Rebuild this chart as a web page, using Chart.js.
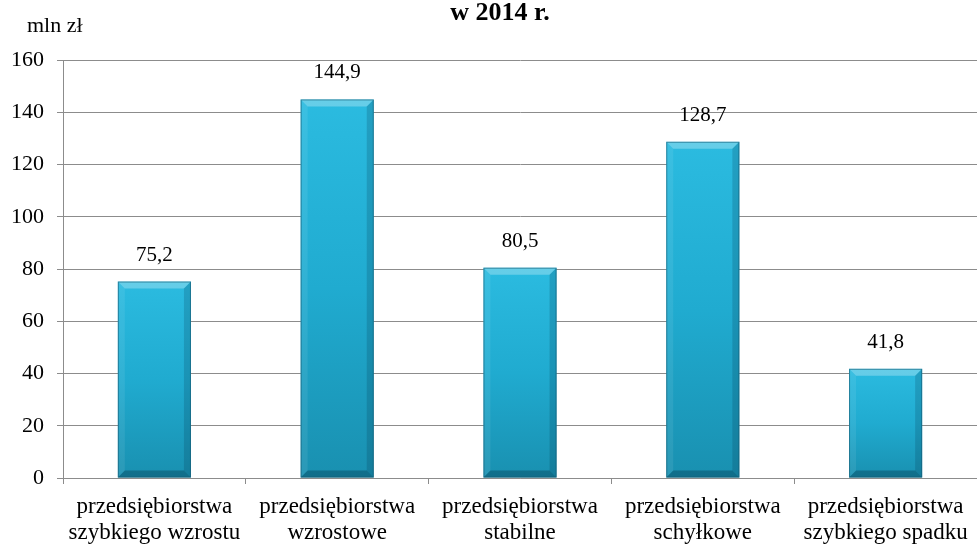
<!DOCTYPE html>
<html>
<head>
<meta charset="utf-8">
<script src="https://cdn.jsdelivr.net/npm/chart.js@4"></script>
<style>
  html, body { margin: 0; padding: 0; background: #fff; }
  #wrap { width: 977px; height: 545px; }
</style>
</head>
<body>
<div id="wrap"><canvas id="chart" width="977" height="545"></canvas></div>
<script>
// ---- data ----
const categories = [
  ['przedsiębiorstwa', 'szybkiego wzrostu'],
  ['przedsiębiorstwa', 'wzrostowe'],
  ['przedsiębiorstwa', 'stabilne'],
  ['przedsiębiorstwa', 'schyłkowe'],
  ['przedsiębiorstwa', 'szybkiego spadku']
];
const values = [75.2, 144.9, 80.5, 128.7, 41.8];
const valueLabels = ['75,2', '144,9', '80,5', '128,7', '41,8'];
const yTicks = [0, 20, 40, 60, 80, 100, 120, 140, 160];

const serif = "'Liberation Serif', 'DejaVu Serif', serif";

// bevelled bars + value labels + headings
const decorPlugin = {
  id: 'decor',
  afterDatasetsDraw(chart) {
    const ctx = chart.ctx;
    const meta = chart.getDatasetMeta(0);
    meta.data.forEach((bar, i) => {
      const l = bar.x - bar.width / 2, r = bar.x + bar.width / 2;
      const t = bar.y, b = bar.base;
      const e = 7;
      ctx.save();
      // body gradient
      const g = ctx.createLinearGradient(0, t, 0, b);
      g.addColorStop(0, '#2bbbe0');
      g.addColorStop(0.5, '#20abd0');
      g.addColorStop(1, '#1990b0');
      ctx.fillStyle = g;
      ctx.fillRect(l, t, r - l, b - t);
      // top bevel (light)
      ctx.fillStyle = 'rgba(255,255,255,0.28)';
      ctx.beginPath();
      ctx.moveTo(l, t); ctx.lineTo(r, t); ctx.lineTo(r - e, t + e); ctx.lineTo(l + e, t + e);
      ctx.closePath(); ctx.fill();
      // left bevel
      ctx.fillStyle = 'rgba(255,255,255,0.08)';
      ctx.beginPath();
      ctx.moveTo(l, t); ctx.lineTo(l + e, t + e); ctx.lineTo(l + e, b - e); ctx.lineTo(l, b);
      ctx.closePath(); ctx.fill();
      // right bevel
      ctx.fillStyle = 'rgba(0,40,60,0.18)';
      ctx.beginPath();
      ctx.moveTo(r, t); ctx.lineTo(r - e, t + e); ctx.lineTo(r - e, b - e); ctx.lineTo(r, b);
      ctx.closePath(); ctx.fill();
      // bottom bevel (dark)
      ctx.fillStyle = 'rgba(0,40,60,0.32)';
      ctx.beginPath();
      ctx.moveTo(l, b); ctx.lineTo(r, b); ctx.lineTo(r - e, b - e); ctx.lineTo(l + e, b - e);
      ctx.closePath(); ctx.fill();
      // outline
      ctx.strokeStyle = 'rgba(20,90,115,0.6)';
      ctx.lineWidth = 1;
      ctx.strokeRect(l + 0.5, t + 0.5, r - l - 1, b - t - 1);
      // value label
      ctx.fillStyle = '#000';
      ctx.font = '21px ' + serif;
      ctx.textAlign = 'center';
      ctx.textBaseline = 'alphabetic';
      ctx.fillText(valueLabels[i], bar.x, t - 21);
      ctx.restore();
    });

    // headings
    ctx.save();
    ctx.fillStyle = '#000';
    ctx.textAlign = 'center';
    ctx.font = 'bold 26px ' + serif;
    ctx.fillText('w 2014 r.', 500, 20);
    ctx.textAlign = 'left';
    ctx.font = '22px ' + serif;
    ctx.fillText('mln zł', 27, 32);
    ctx.restore();
  }
};

new Chart(document.getElementById('chart'), {
  type: 'bar',
  data: {
    labels: categories,
    datasets: [{
      data: values,
      backgroundColor: 'rgba(0,0,0,0)',
      borderWidth: 0,
      barPercentage: 0.4,
      categoryPercentage: 1.0
    }]
  },
  options: {
    responsive: false,
    animation: false,
    layout: { padding: { top: 60, right: 0, left: 0, bottom: 0 } },
    plugins: {
      legend: { display: false },
      tooltip: { enabled: false }
    },
    scales: {
      x: {
        offset: true,
        afterFit: axis => { axis.height = 67; },
        grid: {
          offset: true,
          drawOnChartArea: false,
          drawTicks: true,
          tickLength: 6,
          color: '#8c8c8c'
        },
        border: { color: '#8c8c8c', width: 1 },
        ticks: {
          color: '#000',
          font: { family: serif, size: 23, lineHeight: 1.17 },
          padding: 9,
          maxRotation: 0,
          autoSkip: false
        }
      },
      y: {
        min: 0,
        max: 160,
        afterBuildTicks: axis => { axis.ticks = yTicks.map(v => ({ value: v })); },
        afterFit: axis => { axis.width = 63; },
        grid: {
          color: '#8c8c8c',
          lineWidth: 1,
          tickLength: 6
        },
        border: { color: '#8c8c8c', width: 1 },
        ticks: {
          color: '#000',
          font: { family: serif, size: 22 },
          padding: 13
        }
      }
    }
  },
  plugins: [decorPlugin]
});
</script>
</body>
</html>
